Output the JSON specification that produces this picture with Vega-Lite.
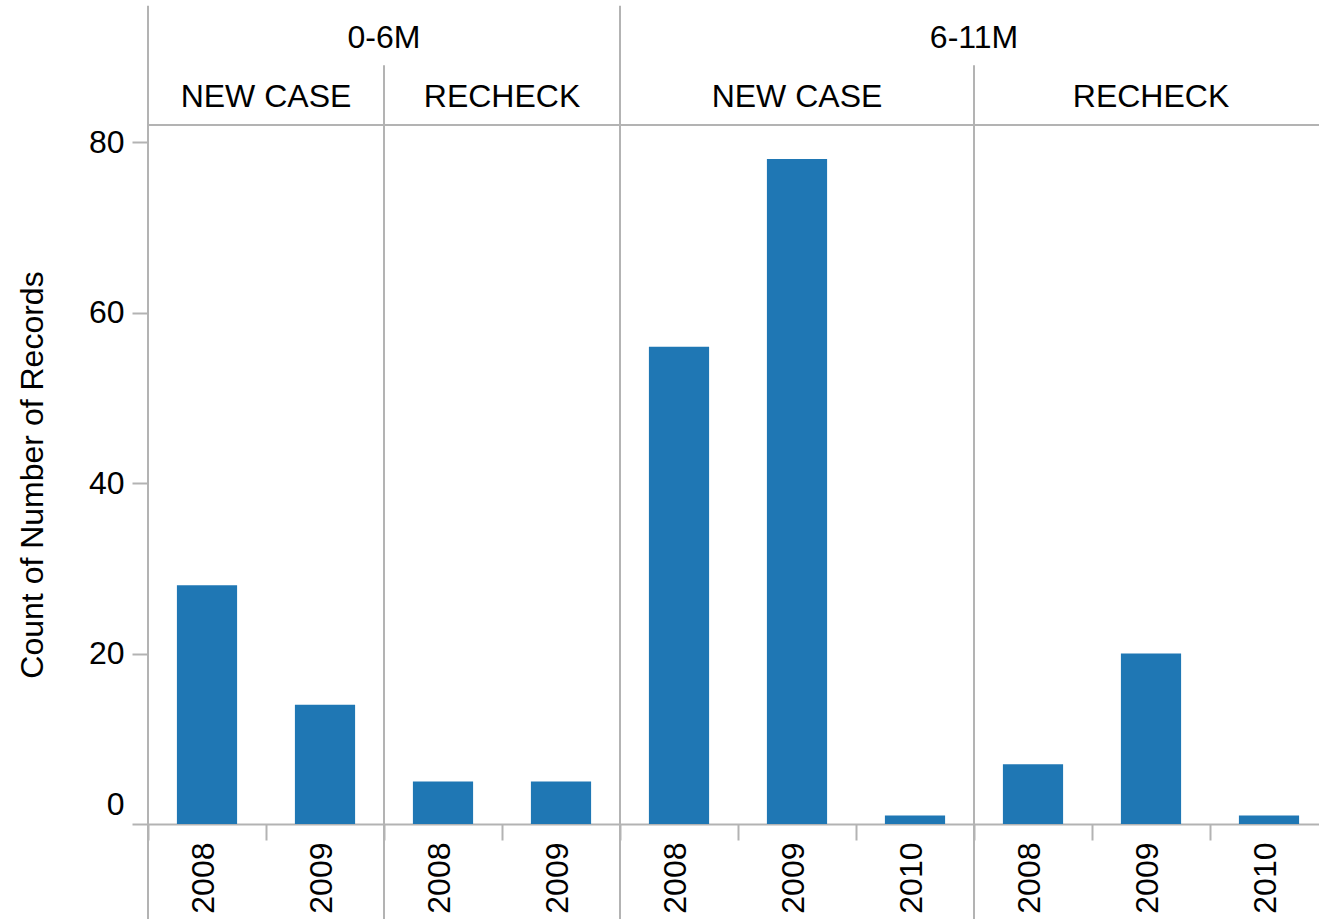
{
  "$schema": "https://vega.github.io/schema/vega-lite/v6.json",
  "autosize": {"type": "none"},
  "padding": {"left": 148, "top": 125, "right": 0, "bottom": 95},
  "width": 1171,
  "height": 699,
  "background": "white",
  "config": {
    "view": {"stroke": null},
    "font": "Liberation Sans",
    "axis": {"labelFont": "Liberation Sans", "titleFont": "Liberation Sans"}
  },
  "layer": [
    {
      "data": {
        "values": [
          {"slot": "0-6M NEW CASE 2008", "group": "0-6M", "type": "NEW CASE", "year": "2008", "count": 28},
          {"slot": "0-6M NEW CASE 2009", "group": "0-6M", "type": "NEW CASE", "year": "2009", "count": 14},
          {"slot": "0-6M RECHECK 2008", "group": "0-6M", "type": "RECHECK", "year": "2008", "count": 5},
          {"slot": "0-6M RECHECK 2009", "group": "0-6M", "type": "RECHECK", "year": "2009", "count": 5},
          {"slot": "6-11M NEW CASE 2008", "group": "6-11M", "type": "NEW CASE", "year": "2008", "count": 56},
          {"slot": "6-11M NEW CASE 2009", "group": "6-11M", "type": "NEW CASE", "year": "2009", "count": 78},
          {"slot": "6-11M NEW CASE 2010", "group": "6-11M", "type": "NEW CASE", "year": "2010", "count": 1},
          {"slot": "6-11M RECHECK 2008", "group": "6-11M", "type": "RECHECK", "year": "2008", "count": 7},
          {"slot": "6-11M RECHECK 2009", "group": "6-11M", "type": "RECHECK", "year": "2009", "count": 20},
          {"slot": "6-11M RECHECK 2010", "group": "6-11M", "type": "RECHECK", "year": "2010", "count": 1}
        ]
      },
      "mark": {"type": "bar", "color": "#1f77b4", "width": {"band": 0.51}},
      "encoding": {
        "x": {
          "field": "slot",
          "type": "nominal",
          "title": null,
          "scale": {
            "domain": ["0-6M NEW CASE 2008", "0-6M NEW CASE 2009", "0-6M RECHECK 2008", "0-6M RECHECK 2009", "6-11M NEW CASE 2008", "6-11M NEW CASE 2009", "6-11M NEW CASE 2010", "6-11M RECHECK 2008", "6-11M RECHECK 2009", "6-11M RECHECK 2010"],
            "range": [0, 1180],
            "paddingInner": 0,
            "paddingOuter": 0
          },
          "axis": {
            "labelExpr": "slice(datum.label, -4)",
            "labelAngle": 270,
            "labelFontSize": 32,
            "labelColor": "#000000",
            "labelPadding": 2,
            "labelOffset": -3.5,
            "labelOverlap": false,
            "labelBound": false,
            "tickBand": "extent",
            "tickSize": 16,
            "tickWidth": 2,
            "tickColor": "#b3b3b3",
            "domainColor": "#b3b3b3",
            "domainWidth": 2,
            "grid": false
          }
        },
        "y": {
          "field": "count",
          "type": "quantitative",
          "title": "Count of Number of Records",
          "scale": {"domain": [0, 82], "nice": false, "zero": true},
          "axis": {
            "values": [0, 20, 40, 60, 80],
            "labelFontSize": 32,
            "labelColor": "#000000",
            "labelPadding": 8,
            "labelFlush": true,
            "labelFlushOffset": -3,
            "tickSize": 16,
            "tickWidth": 2,
            "tickColor": "#b3b3b3",
            "domain": false,
            "grid": false,
            "titleFontSize": 32,
            "titleFontWeight": "normal",
            "titleColor": "#000000",
            "titlePadding": 39
          }
        }
      }
    },
    {
      "data": {"values": [{"slot": "0-6M NEW CASE 2008"}, {"slot": "6-11M NEW CASE 2008"}]},
      "mark": {"type": "rule", "color": "#b3b3b3", "strokeWidth": 2},
      "encoding": {
        "x": {"field": "slot", "type": "nominal", "bandPosition": 0, "title": null},
        "y": {"datum": 96},
        "y2": {"datum": -12}
      }
    },
    {
      "data": {"values": [{"slot": "0-6M RECHECK 2008"}, {"slot": "6-11M RECHECK 2008"}]},
      "mark": {"type": "rule", "color": "#b3b3b3", "strokeWidth": 2},
      "encoding": {
        "x": {"field": "slot", "type": "nominal", "bandPosition": 0, "title": null},
        "y": {"datum": 89},
        "y2": {"datum": -12}
      }
    },
    {
      "data": {"values": [{"edge": "top"}]},
      "mark": {"type": "rule", "color": "#b3b3b3", "strokeWidth": 2},
      "encoding": {
        "y": {"datum": 82}
      }
    },
    {
      "data": {"values": [{"slot": "0-6M NEW CASE 2009", "label": "NEW CASE"}, {"slot": "0-6M RECHECK 2009", "label": "RECHECK"}]},
      "mark": {"type": "text", "font": "Liberation Sans", "fontSize": 32, "color": "#000000", "align": "center", "baseline": "alphabetic"},
      "encoding": {
        "x": {"field": "slot", "type": "nominal", "bandPosition": 0, "title": null},
        "y": {"datum": 84.1},
        "text": {"field": "label"}
      }
    },
    {
      "data": {"values": [{"slot": "6-11M NEW CASE 2009", "label": "NEW CASE"}, {"slot": "6-11M RECHECK 2009", "label": "RECHECK"}]},
      "mark": {"type": "text", "font": "Liberation Sans", "fontSize": 32, "color": "#000000", "align": "center", "baseline": "alphabetic"},
      "encoding": {
        "x": {"field": "slot", "type": "nominal", "bandPosition": 0.5, "title": null},
        "y": {"datum": 84.1},
        "text": {"field": "label"}
      }
    },
    {
      "data": {"values": [{"slot": "0-6M RECHECK 2008", "label": "0-6M"}, {"slot": "6-11M RECHECK 2008", "label": "6-11M"}]},
      "mark": {"type": "text", "font": "Liberation Sans", "fontSize": 32, "color": "#000000", "align": "center", "baseline": "alphabetic"},
      "encoding": {
        "x": {"field": "slot", "type": "nominal", "bandPosition": 0, "title": null},
        "y": {"datum": 91.0},
        "text": {"field": "label"}
      }
    }
  ]
}
